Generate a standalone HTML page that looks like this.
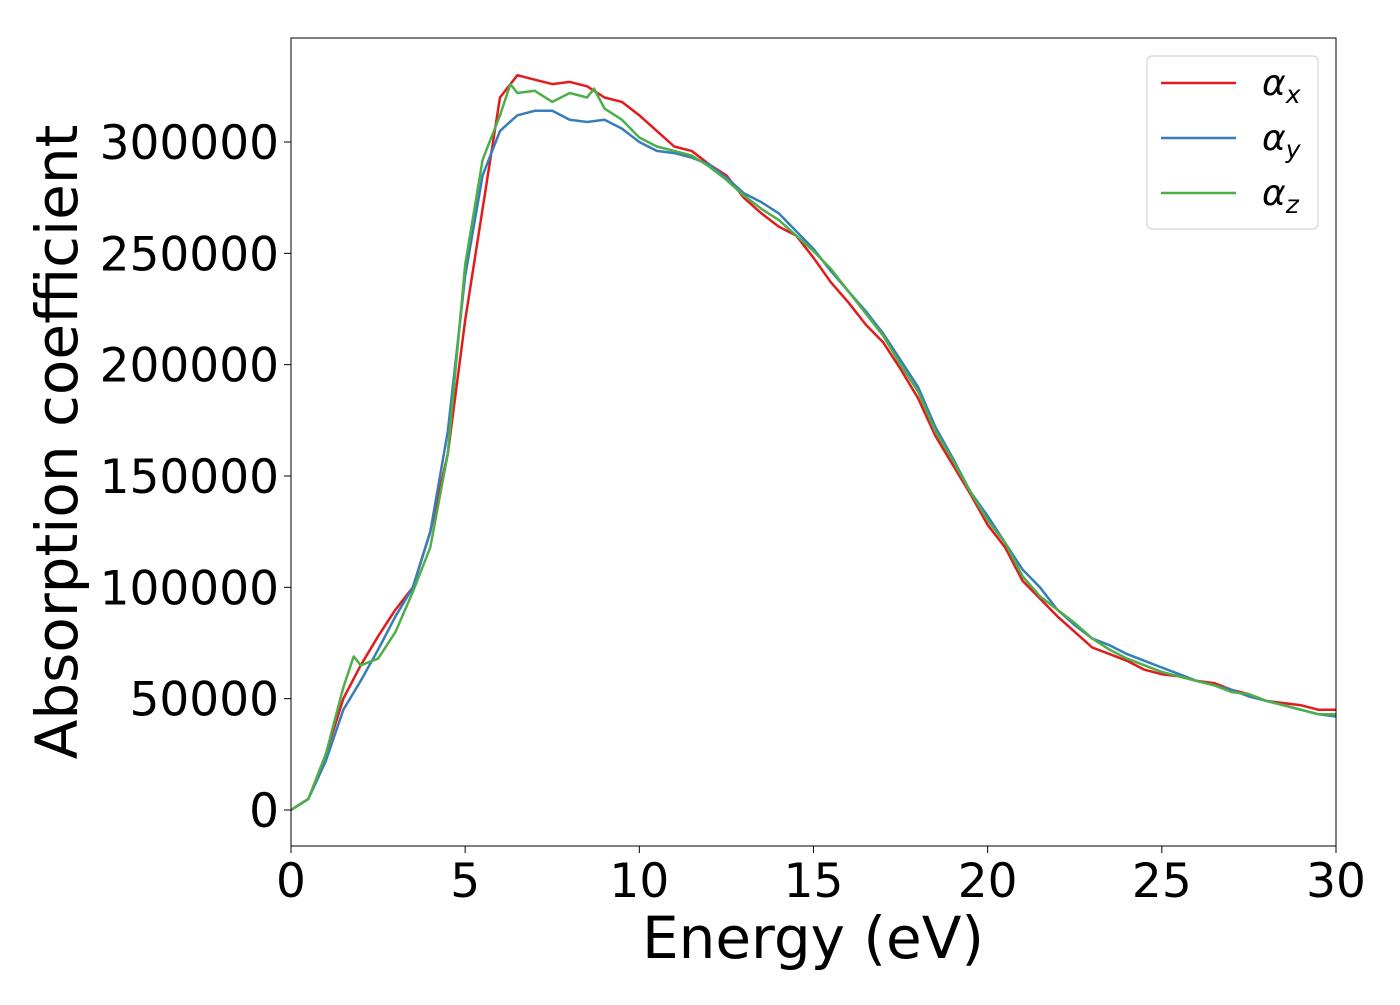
<!DOCTYPE html>
<html><head><meta charset="utf-8"><style>
body{margin:0;background:#fff;}
svg text{font-family:"DejaVu Sans","Liberation Sans",sans-serif;fill:#000;}
</style></head><body>
<svg id="chart" width="1400" height="1000" xmlns="http://www.w3.org/2000/svg"></svg>
<script>
const xTicks=[0,5,10,15,20,25,30];
const yTicks=[0,50000,100000,150000,200000,250000,300000];
const seriesNames=["x","y","z"];
const seriesColors=["#e41a1c","#377eb8","#4daf4a"];
const energyX=[0,0.5,1,1.5,2,2.5,3,3.5,4,4.5,5,5.5,6,6.5,7,7.5,8,8.5,9,9.5,10,10.5,11,11.5,12,12.5,13,13.5,14,14.5,15,15.5,16,16.5,17,17.5,18,18.5,19,19.5,20,20.5,21,21.5,22,22.5,23,23.5,24,24.5,25,25.5,26,26.5,27,27.5,28,28.5,29,29.5,30];
const alphaX=[0,5000,25000,50000,65000,78000,90000,100000,125000,160000,220000,270000,320000,330000,328000,326000,327000,325000,320000,318000,312000,305000,298000,296000,290000,285000,275000,268000,262000,258000,248000,237000,228000,218000,210000,198000,185000,168000,155000,142000,128000,118000,103000,95000,87000,80000,73000,70000,67000,63000,61000,60000,58000,57000,54000,52000,49000,48000,47000,45000,45000];
const alphaY=[0,5000,22000,45000,58000,72000,87000,100000,125000,170000,240000,285000,305000,312000,314000,314000,310000,309000,310000,306000,300000,296000,295000,293000,290000,284000,277000,273000,268000,260000,252000,242000,233000,224000,214000,202000,190000,172000,158000,143000,132000,120000,108000,100000,90000,83000,77000,74000,70000,67000,64000,61000,58000,56000,54000,51000,49000,47000,45000,43000,42000];
const energyZ=[0,0.5,1,1.5,1.8,2,2.5,3,3.5,4,4.5,5,5.5,6,6.3,6.5,7,7.5,8,8.5,8.7,9,9.5,10,10.5,11,11.5,12,12.5,13,13.5,14,14.5,15,15.5,16,16.5,17,17.5,18,18.5,19,19.5,20,20.5,21,21.5,22,22.5,23,23.5,24,24.5,25,25.5,26,26.5,27,27.5,28,28.5,29,29.5,30];
const alphaZ=[0,5000,25000,55000,69000,65000,68000,80000,98000,118000,160000,245000,292000,312000,326000,322000,323000,318000,322000,320000,324000,315000,310000,302000,298000,296000,294000,289000,283000,276000,270000,265000,258000,251000,243000,233000,223000,213000,200000,188000,170000,157000,143000,130000,120000,105000,96000,90000,84000,77000,72000,68000,65000,62000,60000,58000,56000,53000,52000,49000,47000,45000,43000,43000];

const L=291,R=1336,T=38,B=846;
const sx=v=>L+(v-0)/(30-0)*(R-L);
const sy=v=>810-v/300000*(810-142);
const svg=document.getElementById('chart');
const NS="http://www.w3.org/2000/svg";
function mk(t,a){const e=document.createElementNS(NS,t);for(const k in a)e.setAttribute(k,a[k]);svg.appendChild(e);return e;}

const clip=mk('clipPath',{id:'pc'});
const cr=document.createElementNS(NS,'rect');cr.setAttribute('x',L);cr.setAttribute('y',T);cr.setAttribute('width',R-L);cr.setAttribute('height',B-T);clip.appendChild(cr);

const xs=[energyX,energyX,energyZ], ys=[alphaX,alphaY,alphaZ];
ys.forEach((arr,i)=>{
  const d=arr.map((v,j)=>(j?'L':'M')+sx(xs[i][j]).toFixed(1)+','+sy(v).toFixed(1)).join(' ');
  const p=mk('path',{d:d,fill:'none',stroke:seriesColors[i],'stroke-width':2.5,'clip-path':'url(#pc)','stroke-linejoin':'round'});
  
  
});

const frame=mk('rect',{x:L,y:T,width:R-L,height:B-T,fill:'none',stroke:'#000','stroke-width':1});



xTicks.forEach(v=>{
  const x=sx(v);
  const t=mk('line',{x1:x,x2:x,y1:B,y2:B+7,stroke:'#000','stroke-width':1});
  
  
  const lb=mk('text',{x:x,y:B+51,'text-anchor':'middle','font-size':47});
  lb.textContent=v;
  
  
});
yTicks.forEach(v=>{
  const y=sy(v);
  const t=mk('line',{x1:L-7,x2:L,y1:y,y2:y,stroke:'#000','stroke-width':1});
  
  
  const lb=mk('text',{x:L-12,y:y+17,'text-anchor':'end','font-size':47});
  lb.textContent=v;
  
  
});

const xl=mk('text',{x:813,y:958,'text-anchor':'middle','font-size':58});
xl.textContent='Energy (eV)';


const yl=mk('text',{x:77,y:442,'text-anchor':'middle','font-size':58,transform:'rotate(-90 77 442)'});
yl.textContent='Absorption coefficient';



const lg=mk('rect',{x:1147,y:56,width:171,height:173,rx:5,fill:'#fff',stroke:'#ccc','stroke-width':1});


seriesNames.forEach((n,i)=>{
  const y=83+i*55;
  const ln=mk('line',{x1:1161,x2:1236,y1:y,y2:y,stroke:seriesColors[i],'stroke-width':2.5});
  
  
  const tx=mk('text',{x:1262,y:y+12,'font-size':36,'font-style':'italic'});
  tx.innerHTML='α<tspan font-size="25" dy="8">'+n+'</tspan>';
  
  
});
</script>
</body></html>
